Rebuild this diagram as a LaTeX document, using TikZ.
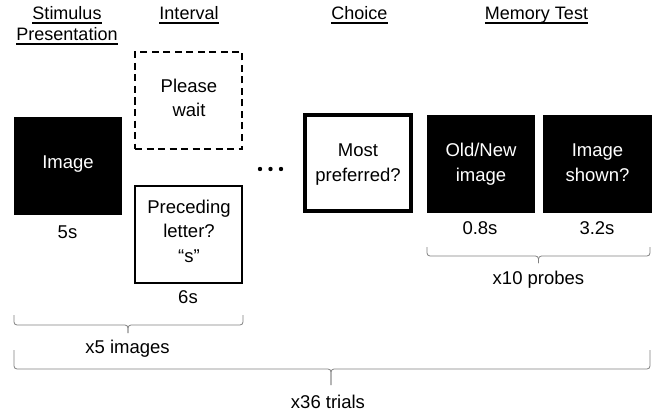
\documentclass[tikz,border=0pt]{standalone}
\usepackage{fontspec}
\setmainfont{Liberation Sans}
\begin{document}
\begin{tikzpicture}[x=1pt,y=-1pt,
  txt/.style={font=\fontsize{18.5}{23}\selectfont, anchor=base, inner sep=0pt, outer sep=0pt},
  wtxt/.style={txt, text=white},
  hdr/.style={font=\fontsize{18}{22}\selectfont, anchor=base, inner sep=0pt, outer sep=0pt},
  ul/.style={line width=1.2pt},
  box/.style={rectangle, inner sep=0pt, outer sep=0pt},
  blackbox/.style={box, fill=black},
  brc/.style={draw=black!50, line width=0.8pt, rounded corners=3pt},
]
\useasboundingbox (0,0) rectangle (654,412);

% headers
\node[hdr] (h1) at (67,20) {Stimulus};
\node[hdr] (h2) at (67,41) {Presentation};
\node[hdr] (h3) at (189,20) {Interval};
\node[hdr] (h4) at (359.5,20) {Choice};
\node[hdr] (h5) at (536.5,20) {Memory Test};
\foreach \h in {h1,h2,h3,h4,h5}
  \draw[ul] ([yshift=-3pt]\h.base west) -- ([yshift=-3pt]\h.base east);

% stimulus
\node[blackbox, minimum width=108pt, minimum height=98pt] (img) at (68,166) {};
\node[wtxt] (imgt) at (68,168) {Image};
\node[txt] (t5s) at (67.5,238) {5s};

% interval
\node[box, draw, dashed, dash pattern=on 7pt off 4.5pt, line width=1.5pt, minimum width=107pt, minimum height=97pt] (wait) at (188.5,100.5) {};
\node[txt] (wt1) at (189,93) {Please};
\node[txt] (wt2) at (189,117) {wait};
\node[box, draw, line width=1.5pt, minimum width=107pt, minimum height=97pt] (prec) at (188.5,234.5) {};
\node[txt] (pt1) at (189,213) {Preceding};
\node[txt] (pt2) at (189,237) {letter?};
\node[txt] (pt3) at (189,262) {“s”};
\node[txt] (t6s) at (188,303) {6s};

% dots
\fill (260,169) circle (2.2pt);
\fill (270.5,169) circle (2.2pt);
\fill (281,169) circle (2.2pt);

% choice
\node[box, draw, line width=4pt, minimum width=106pt, minimum height=96pt] (pref) at (358,163) {};
\node[txt] (ct1) at (358,157) {Most};
\node[txt] (ct2) at (358,181) {preferred?};

% memory test
\node[blackbox, minimum width=108pt, minimum height=98pt] (old) at (481,164) {};
\node[wtxt] (ot1) at (481,157) {Old/New};
\node[wtxt] (ot2) at (481,181) {image};
\node[blackbox, minimum width=109pt, minimum height=98pt] (shown) at (597.5,164) {};
\node[wtxt] (st1) at (597.5,157) {Image};
\node[wtxt] (st2) at (597.5,181) {shown?};
\node[txt] (t08) at (480,234) {0.8s};
\node[txt] (t32) at (597,234) {3.2s};

% braces
\draw[brc] (427,247) -- (427,256) -- (538.5,256) -- (538.5,263);
\draw[brc] (650,247) -- (650,256) -- (538.5,256) -- (538.5,263);
\node[txt] (probes) at (538.5,284) {x10 probes};

\draw[brc] (14,315) -- (14,325) -- (128,325) -- (128,333);
\draw[brc] (243,315) -- (243,325) -- (128,325) -- (128,333);
\node[txt] (imgs) at (127.5,353) {x5 images};

\draw[brc] (14,350) -- (14,369) -- (331,369) -- (331,385);
\draw[brc] (650,350) -- (650,369) -- (331,369) -- (331,385);
\node[txt] (trials) at (328,408) {x36 trials};
\end{tikzpicture}
\end{document}
